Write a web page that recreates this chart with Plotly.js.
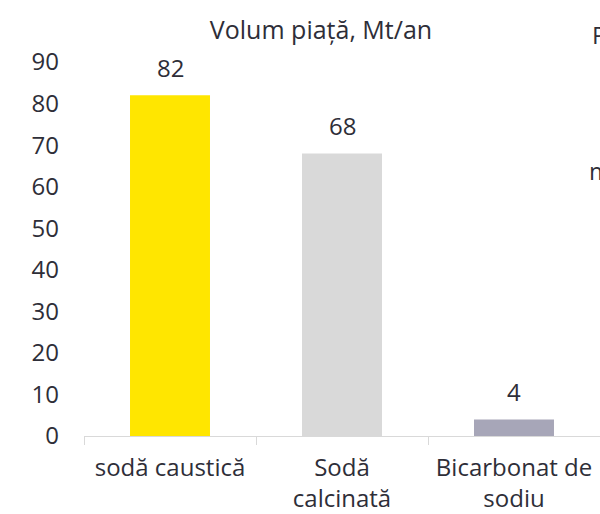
<!DOCTYPE html>
<html>
<head>
<meta charset="utf-8">
<script src="https://cdn.plot.ly/plotly-3.0.1.min.js"></script>
<style>
  html, body { margin: 0; padding: 0; background: #fff; }
  #chart { width: 600px; height: 514px; }
</style>
</head>
<body>
<div id="chart"></div>
<script>
// Market volume of sodium products, Mt per year
const categories = ["sodă caustică", "Sodă<br>calcinată", "Bicarbonat de<br>sodiu"];
const volumes = [82, 68, 4];
const barColors = ["#FFE600", "#D9D9D9", "#A7A6B8"];
const yTicks = [0, 10, 20, 30, 40, 50, 60, 70, 80, 90];

const textColor = "#2E2E38";
const font = { family: "Open Sans, sans-serif", size: 24, color: textColor };

// plot area in pixels
const W = 600, H = 514;
const M = { l: 84, r: 0, t: 62, b: 78 };
const px2paperX = px => (px - M.l) / (W - M.l - M.r);
const px2paperY = py => (H - M.b - py) / (H - M.t - M.b);

const trace = {
  type: "bar",
  x: categories,
  y: volumes,
  marker: { color: barColors },
  hoverinfo: "none"
};

// value labels above each bar
const valueLabels = categories.map((c, i) => ({
  x: c,
  y: volumes[i],
  xref: "x",
  yref: "y",
  text: String(volumes[i]),
  showarrow: false,
  yanchor: "bottom",
  yshift: 9,
  font: font
}));

// fragments of neighbouring text cut off at the right edge
const edgeText = [
  { x: 590, y: 35, text: "P" },
  { x: 587, y: 170, text: "m" }
].map(t => ({
  x: px2paperX(t.x), y: px2paperY(t.y), xref: "paper", yref: "paper",
  xanchor: "left", yanchor: "middle", text: t.text, showarrow: false, font: font
}));

const layout = {
  width: W,
  height: H,
  margin: M,
  paper_bgcolor: "#ffffff",
  plot_bgcolor: "#ffffff",
  font: font,
  title: {
    text: "Volum piață, Mt/an",
    font: Object.assign({}, font, { size: 25 }),
    x: 0.535,
    xanchor: "center",
    y: 1 - 30 / H,
    yanchor: "middle"
  },
  bargap: 0.535,
  showlegend: false,
  xaxis: {
    type: "category",
    showline: true,
    linecolor: "#D9D9D9",
    linewidth: 1,
    ticks: "outside",
    tickson: "boundaries",
    ticklen: 8,
    tickcolor: "#D9D9D9",
    ticklabelstandoff: 10,
    showgrid: false,
    tickfont: font,
    automargin: false
  },
  yaxis: {
    range: [0, 90],
    tickvals: yTicks,
    showgrid: false,
    zeroline: false,
    showline: false,
    ticks: "",
    ticklabelstandoff: 24,
    tickfont: font,
    automargin: false
  },
  annotations: valueLabels.concat(edgeText)
};

Plotly.newPlot("chart", [trace], layout, { displayModeBar: false, staticPlot: true });
</script>
</body>
</html>
